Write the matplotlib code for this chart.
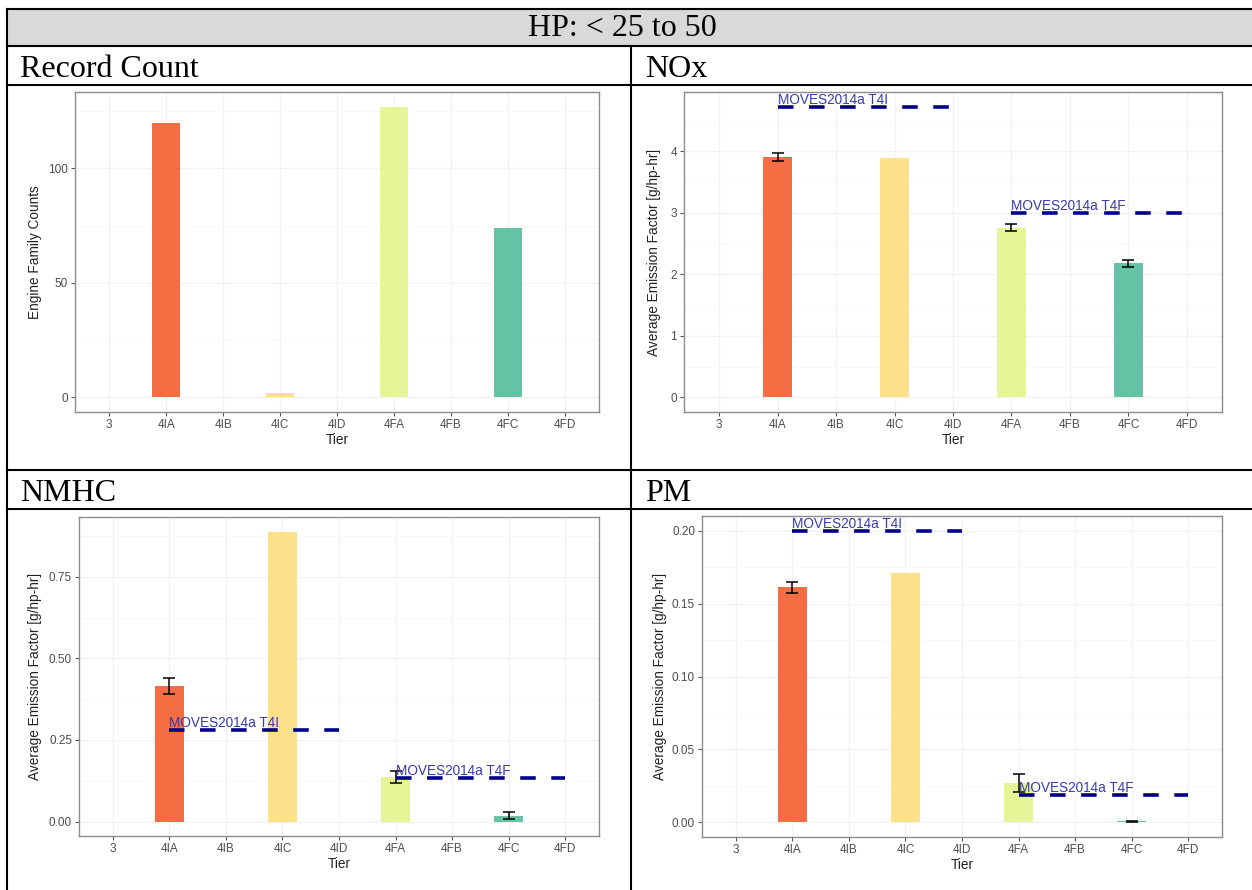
import matplotlib
matplotlib.use("Agg")
import matplotlib.pyplot as plt
from matplotlib.lines import Line2D
from matplotlib.patches import Rectangle
from matplotlib.ticker import MultipleLocator, AutoMinorLocator

tiers = ['3', '4IA', '4IB', '4IC', '4ID', '4FA', '4FB', '4FC', '4FD']
# RColorBrewer "Spectral", one colour per tier
tier_colors = ['#D53E4F', '#F46D43', '#FDAE61', '#FEE08B', '#FFFFBF',
               '#E6F598', '#ABDDA4', '#66C2A5', '#3288BD']

# Record count (None = no engine families in that tier)
counts = [None, 120, None, 2, None, 127, None, 74, None]

# NOx average emission factor [g/hp-hr] and standard error
nox = [None, 3.91, None, 3.90, None, 2.76, None, 2.18, None]
nox_se = [None, 0.06, None, None, None, 0.055, None, 0.06, None]

# NMHC
nmhc = [None, 0.416, None, 0.889, None, 0.137, None, 0.018, None]
nmhc_se = [None, 0.025, None, None, None, 0.018, None, 0.010, None]

# PM
pm = [None, 0.161, None, 0.171, None, 0.027, None, 0.0008, None]
pm_se = [None, 0.004, None, None, None, 0.0065, None, 0.0003, None]

# MOVES2014a reference levels (T4I, T4F)
moves_nox = [4.73, 3.00]
moves_nmhc = [0.28, 0.134]
moves_pm = [0.20, 0.0186]

W, H = 1252, 890
fig = plt.figure(figsize=(W / 100, H / 100), dpi=100)


def fx(x):
    return x / W


def fy(y):
    return 1 - y / H


def hline(y, x0, x1):
    fig.add_artist(Line2D([fx(x0), fx(x1)], [fy(y), fy(y)], color='black',
                          lw=1.5, transform=fig.transFigure))


def vline(x, y0, y1):
    fig.add_artist(Line2D([fx(x), fx(x)], [fy(y0), fy(y1)], color='black',
                          lw=1.5, transform=fig.transFigure))


# table frame
fig.add_artist(Rectangle((fx(7), fy(46)), fx(1252) - fx(7), fy(9) - fy(46),
                         facecolor='#D9D9D9', edgecolor='none',
                         transform=fig.transFigure))
for y in [9, 46, 85, 470, 509]:
    hline(y, 7, 1252)
vline(7, 9, 890)
vline(631, 46, 890)

serif = dict(family='Liberation Serif', fontsize=23, color='black')
fig.text(fx(622), fy(28), 'HP: < 25 to 50', ha='center', va='center', **serif)
fig.text(fx(20), fy(77), 'Record Count', ha='left', va='baseline', **serif)
fig.text(fx(645), fy(77), 'NOx', ha='left', va='baseline', **serif)
fig.text(fx(20), fy(501), 'NMHC', ha='left', va='baseline', **serif)
fig.text(fx(645), fy(501), 'PM', ha='left', va='baseline', **serif)

sans = 'Liberation Sans'


def panel(box, vals, errs, ylabel, ystep, fmt, ylab_off, moves=None):
    x0, y0, x1, y1 = box
    ax = fig.add_axes([fx(x0), fy(y1), fx(x1) - fx(x0), fy(y0) - fy(y1)])
    xs = [i for i, v in enumerate(vals) if v is not None]
    hs = [vals[i] for i in xs]
    ax.bar(xs, hs, width=0.5, color=[tier_colors[i] for i in xs], zorder=2)

    top = max(hs)
    if errs is not None:
        for i in xs:
            if errs[i] is not None:
                ax.errorbar(i, vals[i], yerr=errs[i], color='black', lw=1.1,
                            capsize=4, capthick=1.1, zorder=3)
                top = max(top, vals[i] + errs[i])
    if moves is not None:
        top = max(top, max(moves))
        for lvl, (a, b), name in zip(moves, [(1, 4), (5, 8)],
                                     ['MOVES2014a T4I', 'MOVES2014a T4F']):
            ax.plot([a, b], [lvl, lvl], color='#00008B', lw=2.6,
                    linestyle=(0, (4.3, 4.3)), dash_capstyle='butt',
                    zorder=4)
            ax.text(a, lvl, name, color='#3A3AAE', fontsize=9.8,
                    family=sans, ha='left', va='bottom', zorder=5)

    pad = 0.05 * top
    ax.set_ylim(-pad, top + pad)
    ax.set_xlim(-0.6, len(tiers) - 0.4)
    ax.set_xticks(range(len(tiers)))
    ax.set_xticklabels(tiers)
    ax.yaxis.set_major_locator(MultipleLocator(ystep))
    ax.yaxis.set_major_formatter(fmt)
    ax.yaxis.set_minor_locator(AutoMinorLocator(2))
    ax.set_axisbelow(True)
    ax.grid(which='major', color='#F1F1F1', lw=0.9)
    ax.grid(which='minor', axis='y', color='#F7F7F7', lw=0.6)
    for s in ax.spines.values():
        s.set_color('#8C8C8C')
        s.set_linewidth(1.0)
    ax.tick_params(which='major', length=3, width=0.8, color='#555555',
                   labelsize=8.5, labelcolor='#4D4D4D', pad=2)
    ax.tick_params(which='minor', length=0)
    for t in ax.get_xticklabels() + ax.get_yticklabels():
        t.set_family(sans)
    ax.set_xlabel('Tier', family=sans, fontsize=9.8, color='#222222')
    ax.set_ylabel(ylabel, family=sans, fontsize=9.8, color='#222222')
    ax.xaxis.set_label_coords(0.5, -28 / (y1 - y0))
    ax.xaxis.label.set_va('center')
    ax.yaxis.set_label_coords(-ylab_off / (x1 - x0), 0.5)
    ax.yaxis.label.set_va('center')
    return ax


ef_label = 'Average Emission Factor [g/hp-hr]'
panel((75, 92, 599, 412), counts, None, 'Engine Family Counts', 50,
      '{x:.0f}', 40)
panel((684, 92, 1222, 412), nox, nox_se, ef_label, 1, '{x:.0f}', 30,
      moves_nox)
panel((79, 517, 599, 836), nmhc, nmhc_se, ef_label, 0.25, '{x:.2f}', 44,
      moves_nmhc)
panel((702, 516, 1222, 837), pm, pm_se, ef_label, 0.05, '{x:.2f}', 42,
      moves_pm)

fig.savefig('out.png', dpi=100, facecolor='white')
